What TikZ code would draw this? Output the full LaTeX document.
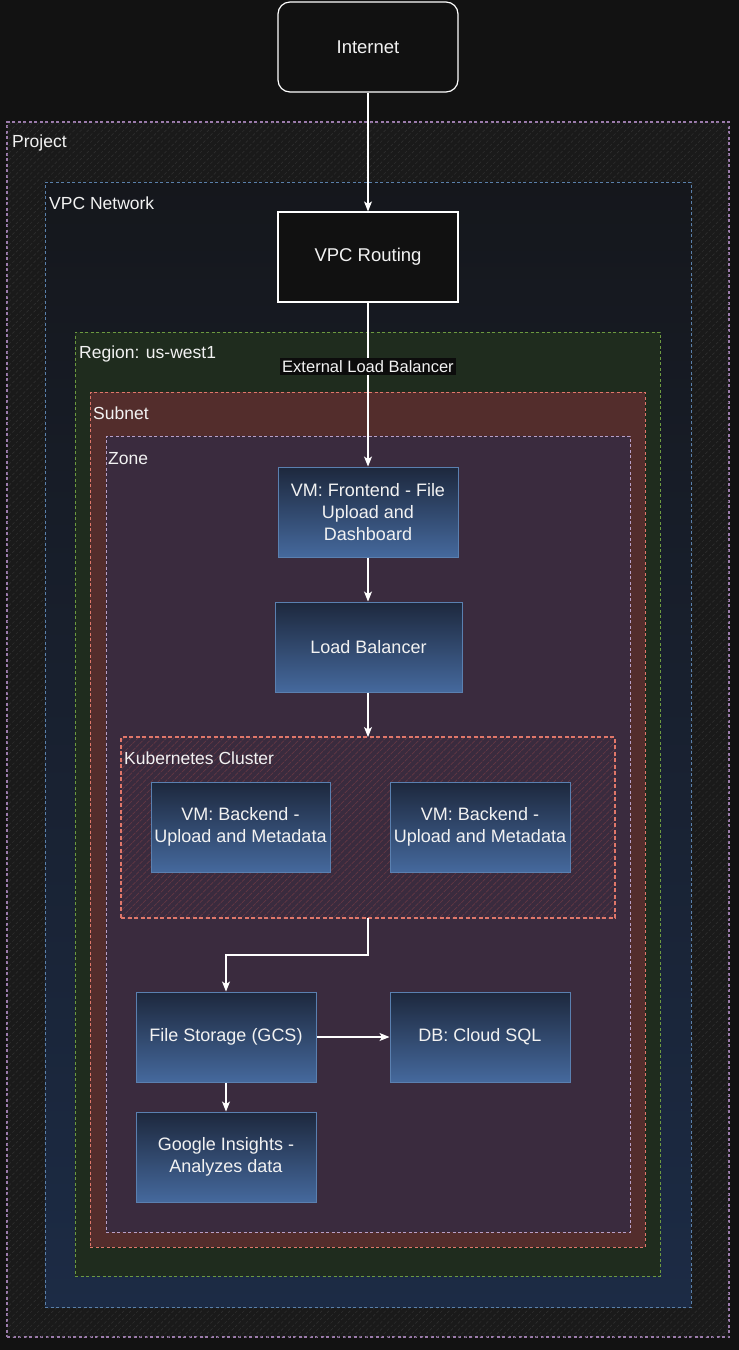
\documentclass[tikz,border=0pt]{standalone}
\usepackage{fontspec}
\setmainfont{Liberation Sans}
\usetikzlibrary{arrows.meta,patterns.meta,calc}
\definecolor{bgc}{HTML}{121212}
\definecolor{projb}{HTML}{9C7CAC}
\definecolor{projf}{HTML}{1A1A1A}
\definecolor{projh}{HTML}{2E2E2E}
\definecolor{vpcb}{HTML}{5A80AA}
\definecolor{vpctop}{HTML}{15171C}
\definecolor{vpcmid}{HTML}{171C27}
\definecolor{vpcbot}{HTML}{1C2B45}
\definecolor{regb}{HTML}{6C9A40}
\definecolor{regf}{HTML}{1F2C1E}
\definecolor{subb}{HTML}{E0776A}
\definecolor{subf}{HTML}{532D2C}
\definecolor{zoneb}{HTML}{B8A0C8}
\definecolor{zonef}{HTML}{3A2B3E}
\definecolor{kubeh}{HTML}{633844}
\definecolor{txt}{HTML}{F2F2F2}
\definecolor{btop}{HTML}{1D283D}
\definecolor{bbot}{HTML}{45699D}
\definecolor{bbord}{HTML}{5A80B0}
\definecolor{darkbox}{HTML}{111111}
\definecolor{labbg}{HTML}{0C0C0C}
\tikzset{
  container/.style={rectangle, inner sep=0pt, outer sep=0pt, dashed, dash pattern=on 3pt off 2.5pt, line width=1pt},
  ctitle/.style={anchor=west, text=txt, font=\fontsize{17.5}{20}\selectfont, inner sep=0pt},
  darknode/.style={rectangle, draw=white, line width=1.2pt, fill=darkbox, text=txt, minimum width=180pt, minimum height=90pt, font=\fontsize{18.5}{21}\selectfont, align=center},
  bluenode/.style={rectangle, draw=bbord, line width=1pt, top color=btop, bottom color=bbot, text=txt, minimum width=180pt, minimum height=90pt, font=\fontsize{18}{22}\selectfont, align=center},
  flow/.style={draw=white, line width=1.1pt, -{Stealth[length=10pt,width=8pt,inset=2.5pt]}},
}
\begin{document}
\begin{tikzpicture}[x=1pt,y=-1pt]
\fill[bgc] (0,0) rectangle (739,1350);
\useasboundingbox (0,0) rectangle (739,1350);
% containers
\node[container, draw=projb, line width=1.3pt, fill=projf, minimum width=722pt, minimum height=1215pt,
  postaction={pattern={Lines[angle=45,distance=5pt,line width=0.6pt]}, pattern color=projh}] (project) at (368,729.5) {};
\node[ctitle] (projectlbl) at (12,143) {Project};
\node[container, draw=vpcb, top color=vpctop, middle color=vpcmid, bottom color=vpcbot, minimum width=646pt, minimum height=1125pt] (vpc) at (368,744.5) {};
\node[ctitle] (vpclbl) at (49,203) {VPC Network};
\node[container, draw=regb, fill=regf, minimum width=585pt, minimum height=944pt] (region) at (367.5,804) {};
\node[ctitle] (regionlbl) at (79,354) {Region: us-west1};
\node[container, draw=subb, fill=subf, minimum width=555pt, minimum height=855pt] (subnet) at (367.5,819.5) {};
\node[ctitle] (subnetlbl) at (93,413) {Subnet};
\node[container, draw=zoneb, fill=zonef, minimum width=524pt, minimum height=796pt] (zone) at (368,834) {};
\node[ctitle] (zonelbl) at (108,459) {Zone};
\node[container, draw=subb, line width=1.7pt, dash pattern=on 4pt off 2.5pt, minimum width=494pt, minimum height=181pt,
  pattern={Lines[angle=45,distance=5pt,line width=0.7pt]}, pattern color=kubeh] (kube) at (368,827.5) {};
\node[ctitle] (kubelbl) at (124,758) {Kubernetes Cluster};
% nodes
\node[darknode, rounded corners=12pt] (internet) at (368,47) {Internet};
\node[darknode] (routing) at (368,257) {VPC Routing};
\node[bluenode] (frontend) at (368,512) {VM: Frontend - File\\Upload and\\Dashboard};
\node[bluenode, minimum width=187pt] (lb) at (368.5,647) {Load Balancer};
\node[bluenode, minimum width=179pt] (back1) at (240.5,827) {VM: Backend -\\Upload and Metadata};
\node[bluenode] (back2) at (480,827) {VM: Backend -\\Upload and Metadata};
\node[bluenode] (fs) at (226,1037) {File Storage (GCS)};
\node[bluenode] (db) at (480,1037) {DB: Cloud SQL};
\node[bluenode] (insights) at (226,1157) {Google Insights -\\Analyzes data};
% connectors
\draw[flow] (internet) -- (routing);
\draw[flow] (routing) -- node[pos=0.39, fill=labbg, text=txt, inner sep=2pt, font=\fontsize{16.5}{18}\selectfont] (extlbl) {External Load Balancer} (frontend);
\draw[flow] (frontend) -- (lb.north -| frontend.south);
\draw[flow] (lb.south -| kube.north) -- (kube.north);
\draw[flow] (kube.south) -- ++(0,37) -| (fs.north);
\draw[flow] (fs) -- (db);
\draw[flow] (fs) -- (insights);
\end{tikzpicture}
\end{document}
